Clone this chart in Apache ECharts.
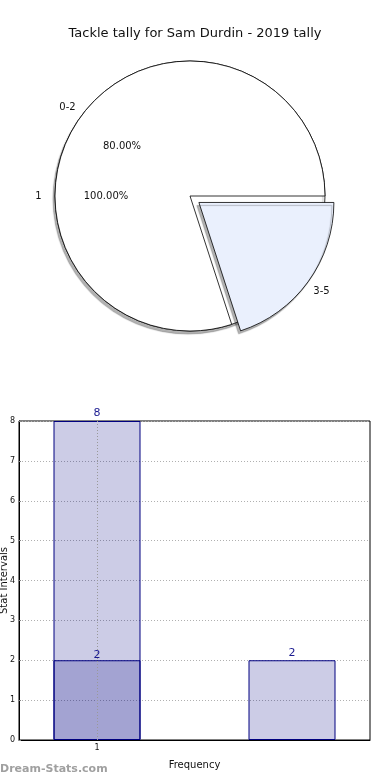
<!DOCTYPE html>
<html>
<head>
<meta charset="utf-8">
<script src="https://cdn.jsdelivr.net/npm/echarts@6/dist/echarts.min.js"></script>
<style>
html,body{margin:0;padding:0;background:#fff;}
#chart{width:390px;height:780px;}
</style>
</head>
<body>
<div id="chart"></div>
<script>
// ---- data ----
const titleText = 'Tackle tally for Sam Durdin - 2019 tally';
const outerPieNames = ['1'];
const outerPieValues = [1];
const innerPieNames = ['0-2', '3-5'];
const innerPieValues = [8, 2];
const innerPieColors = ['#ffffff', '#eaf0fd'];
const explodedName = '3-5';
const barPositions = [1, 2];
const barValues = [8, 2];
const overlayPositions = [1];
const overlayValues = [2];
const xTickLabels = ['1'];
const xAxisName = 'Frequency';
const yAxisName = 'Stat Intervals';
const watermark = 'Dream-Stats.com';

// ---- layout ----
const FONT = 'DejaVu Sans';
const C = [190, 196];
const R = 135;
const OFF = 11;

function pct(p) { return p.percent.toFixed(2) + '%'; }

const shadow = { shadowBlur: 1, shadowOffsetX: -2, shadowOffsetY: 3, shadowColor: 'rgba(0,0,0,0.3)' };

const outerData = outerPieNames.map((n, i) => ({ name: n, value: outerPieValues[i] }));
const innerData = innerPieNames.map((n, i) => ({
  name: n, value: innerPieValues[i], selected: n === explodedName,
  itemStyle: Object.assign({ color: innerPieColors[i] }, n === explodedName ? shadow : {})
}));

function labelData(src, alignFn) {
  return src.map(d => ({
    name: d.name, value: d.value, selected: !!d.selected,
    label: alignFn ? { align: alignFn(d.name) } : undefined
  }));
}

const baseLabelPie = {
  type: 'pie', center: C, clockwise: false, startAngle: 0, silent: true,
  selectedMode: 'single', selectedOffset: OFF, animation: false,
  itemStyle: { color: 'rgba(0,0,0,0)', borderWidth: 0 },
  labelLine: { show: false },
  emphasis: { disabled: true }
};

const option = {
  animation: false,
  backgroundColor: '#ffffff',
  title: {
    text: titleText, left: 'center', top: 22,
    textStyle: { fontFamily: FONT, fontSize: 13, fontWeight: 'normal', color: '#111' }
  },
  graphic: [{
    type: 'text', left: 0, top: 764,
    style: { text: watermark, fontFamily: FONT, fontSize: 11, fontWeight: 'bold', fill: '#a0a0a0' }
  }],
  grid: {
    left: 19, right: 20, top: 421, bottom: 40, show: true,
    containLabel: false, outerBoundsMode: 'none',
    borderColor: '#000', borderWidth: 1, backgroundColor: 'transparent'
  },
  xAxis: {
    type: 'value', min: 0.6, max: 2.4, interval: 0.2,
    name: xAxisName, nameLocation: 'middle', nameGap: 20, nameMoveOverlap: false,
    nameTextStyle: { fontFamily: FONT, fontSize: 10, color: '#111' },
    axisLine: { show: true, lineStyle: { color: '#000' } },
    axisTick: { show: false },
    splitLine: { show: false },
    axisLabel: {
      fontFamily: FONT, fontSize: 8, color: '#111', margin: 4,
      formatter: v => { const i = barPositions.findIndex(p => Math.abs(p - v) < 1e-6); return (i >= 0 && i < xTickLabels.length) ? xTickLabels[i] : ''; }
    }
  },
  yAxis: {
    type: 'value', min: 0, max: 8, interval: 1,
    name: yAxisName, nameLocation: 'middle', nameGap: 10, nameMoveOverlap: false,
    nameTextStyle: { fontFamily: FONT, fontSize: 10, color: '#111' },
    axisLine: { show: true, lineStyle: { color: '#000' } },
    axisTick: { show: true, inside: true, length: 2, lineStyle: { color: '#888' } },
    splitLine: { show: true, lineStyle: { color: '#b0b0b0', type: [1, 2], width: 1 } },
    axisLabel: { fontFamily: FONT, fontSize: 8, color: '#111', margin: 4 }
  },
  series: [
    {
      type: 'pie', name: 'outer', center: C, radius: [0, R],
      clockwise: false, startAngle: 0, silent: true,
      data: outerData,
      itemStyle: Object.assign({ color: '#ffffff', borderColor: '#000', borderWidth: 0.8 }, shadow),
      label: { show: false }, labelLine: { show: false }
    },
    {
      type: 'pie', name: 'inner', center: C, radius: [0, R],
      clockwise: false, startAngle: 0, silent: true,
      selectedMode: 'single', selectedOffset: OFF,
      data: innerData,
      itemStyle: { borderColor: '#000', borderWidth: 0.8 },
      label: { show: false }, labelLine: { show: false }
    },
    Object.assign({}, baseLabelPie, {
      radius: [0, R * 1.2], data: labelData(outerData),
      label: { show: true, position: 'inside', formatter: pct, fontFamily: FONT, fontSize: 10, color: '#111' }
    }),
    Object.assign({}, baseLabelPie, {
      radius: [0, R * 1.2], data: labelData(innerData),
      label: { show: true, position: 'inside', formatter: pct, fontFamily: FONT, fontSize: 10, color: '#111' }
    }),
    Object.assign({}, baseLabelPie, {
      radius: [R, R * 1.2], data: labelData(outerData, () => 'right'),
      label: { show: true, position: 'inside', formatter: '{b}', fontFamily: FONT, fontSize: 10, color: '#111' }
    }),
    Object.assign({}, baseLabelPie, {
      radius: [R, R * 1.2], data: labelData(innerData, n => n === explodedName ? 'left' : 'right'),
      label: { show: true, position: 'inside', formatter: '{b}', fontFamily: FONT, fontSize: 10, color: '#111' }
    }),
    {
      type: 'bar', name: 'total', barWidth: 87, barGap: '-100%',
      data: barPositions.map((p, i) => [p, barValues[i]]),
      itemStyle: { color: 'rgba(0,0,128,0.2)', borderColor: '#000080', borderWidth: 1 },
      label: { show: true, position: 'top', distance: 2, fontFamily: FONT, fontSize: 11, color: '#1a1a90', formatter: p => String(p.value[1]) },
      markLine: {
        silent: true, symbol: 'none', label: { show: false },
        lineStyle: { color: '#999', type: [1, 2], width: 1 },
        data: xTickLabels.map(t => ({ xAxis: Number(t) }))
      }
    },
    {
      type: 'bar', name: 'overlay', barWidth: 87, barGap: '-100%',
      data: overlayPositions.map((p, i) => [p, overlayValues[i]]),
      itemStyle: { color: 'rgba(0,0,128,0.2)', borderColor: '#000080', borderWidth: 1 },
      label: { show: true, position: 'top', distance: 0, fontFamily: FONT, fontSize: 11, color: '#1a1a90', formatter: p => String(p.value[1]) }
    }
  ]
};

const chart = echarts.init(document.getElementById('chart'), null, { renderer: 'canvas' });
chart.setOption(option);
</script>
</body>
</html>
